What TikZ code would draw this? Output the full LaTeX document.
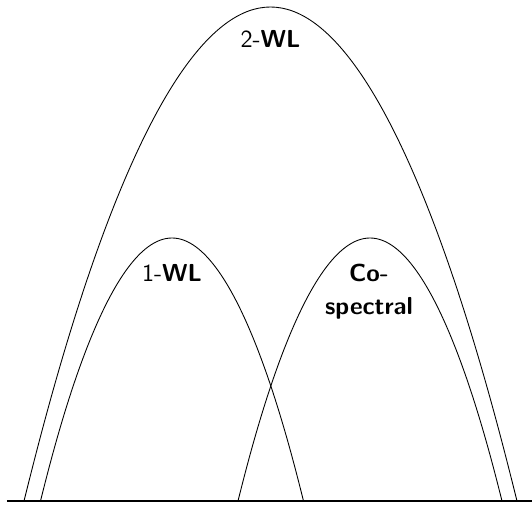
\documentclass[tikz,border=0pt]{standalone}
\usepackage{amsmath}
\usepackage{tikz}

\begin{document}
\begin{tikzpicture}[
		every node/.style={font=\sffamily\fontsize{14}{19}\selectfont, align=center, inner sep=0pt},
		hull/.style={line width=0.5pt}
	]
  \useasboundingbox (0cm, -0.08cm) rectangle (10.64cm, 10.02cm);
  \draw [line width=1.4pt] (0.14cm, 0cm) -- (10.64cm, 0cm);
  \draw [hull] (0.48cm, 0cm) parabola bend (5.41cm, 9.88cm) (10.34cm, 0cm);
  \draw [hull] (0.81cm, 0cm) parabola bend (3.44cm, 5.26cm) (6.07cm, 0cm);
  \draw [hull] (4.76cm, 0cm) parabola bend (7.40cm, 5.26cm) (10.04cm, 0cm);
  \node (wl_2) at (5.41cm, 9.24cm) {2-\textbf{WL}};
  \node (wl_1) at (3.44cm, 4.56cm) {1-\textbf{WL}};
  \node (co_sp) at (7.38cm, 4.18cm) {\textbf{Co-}\\\textbf{spectral}};
\end{tikzpicture}
\end{document}
